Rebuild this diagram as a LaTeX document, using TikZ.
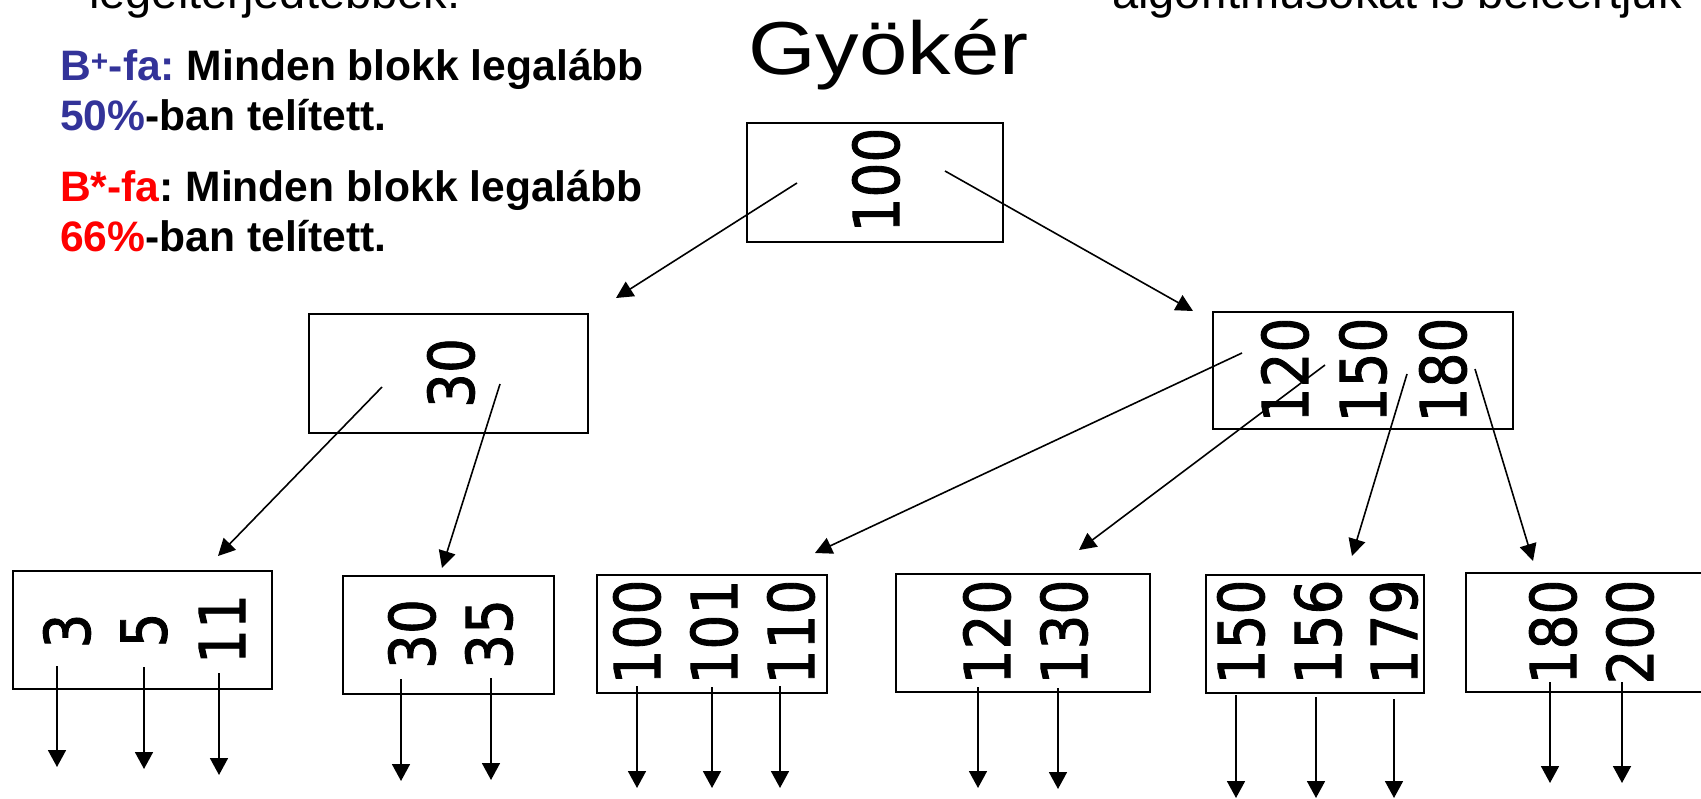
\documentclass[tikz,border=0pt]{standalone}
\usepackage{fontspec}
\usepackage{graphicx}
\setmainfont{Liberation Sans}
\newfontfamily\numfont[FakeBold=1.5]{DejaVu Sans}
\usetikzlibrary{arrows.meta}
\definecolor{bplus}{RGB}{51,51,153}
\definecolor{bstar}{RGB}{255,0,0}
\newcommand\nstretch[1]{\scalebox{1}[1.15]{#1}}
\frenchspacing
\tikzset{
  blockbox/.style={draw=black, line width=2pt, inner sep=0pt, fill=none},
  numtxt/.style={font=\numfont\fontsize{55}{55}\selectfont, rotate=90, inner sep=0pt},
  conn/.style={line width=1.6pt, -{Triangle[width=17pt,length=17pt]}},
  ptr/.style={line width=1.8pt, -{Triangle[width=18pt,length=17pt]}},
  boldtxt/.style={font=\bfseries\fontsize{42.6}{42.6}\selectfont, inner sep=0pt, anchor=base west},
  toptxt/.style={font=\fontsize{47}{47}\selectfont, inner sep=0pt, anchor=base west}
}
\begin{document}
\begin{tikzpicture}[x=1pt,y=-1pt]
\useasboundingbox (0,0) rectangle (1701,799);
\begin{scope}
\clip (0,0) rectangle (1701,799);
% cut-off text at top
\node[toptxt] (tl) at (89,9) {legelterjedtebbek.};
\node[toptxt] (tr) at (1112,9) {algoritmusokat is beleértjük};
% left text
\node[boldtxt] (l1) at (60,81) {\textcolor{bplus}{B\textsuperscript{+}-fa:} Minden blokk legalább};
\node[boldtxt] (l2) at (60,131) {\textcolor{bplus}{50\%}-ban telített.};
\node[boldtxt] (l3) at (60,202) {\textcolor{bstar}{B*-fa}: Minden blokk legalább};
\node[boldtxt] (l4) at (60,252) {\textcolor{bstar}{66\%}-ban telített.};
% title
\node[font=\fontsize{75}{75}\selectfont, inner sep=0pt, anchor=base west] (title) at (748,75) {\scalebox{1.16}[1]{Gyökér}};
% boxes
\node[blockbox, minimum width=256pt, minimum height=119pt] (root) at (875,182.5) {};
\node[blockbox, minimum width=279pt, minimum height=119pt] (in1) at (448.5,373.5) {};
\node[blockbox, minimum width=300pt, minimum height=117pt] (in2) at (1363,370.5) {};
\node[blockbox, minimum width=259pt, minimum height=118pt] (lf1) at (142.5,630) {};
\node[blockbox, minimum width=211pt, minimum height=118pt] (lf2) at (448.5,635) {};
\node[blockbox, minimum width=230pt, minimum height=118pt] (lf3) at (712,634) {};
\node[blockbox, minimum width=254pt, minimum height=118pt] (lf4) at (1023,633) {};
\node[blockbox, minimum width=218pt, minimum height=118pt] (lf5) at (1315,634) {};
\node[blockbox, minimum width=294pt, minimum height=119pt] (lf6) at (1613,632.5) {};
% keys
\node[numtxt] (k100) at (876,180) {\nstretch{100}};
\node[numtxt] (k30) at (451,373) {\nstretch{30}};
\node[numtxt] (k120) at (1285,370) {\nstretch{120}};
\node[numtxt] (k150) at (1363,370) {\nstretch{150}};
\node[numtxt] (k180) at (1443,370) {\nstretch{180}};
\node[numtxt] (a3) at (67,631) {\nstretch{3}};
\node[numtxt] (a5) at (144,630) {\nstretch{5}};
\node[numtxt] (a11) at (222,629) {\nstretch{11}};
\node[numtxt] (b30) at (412,634) {\nstretch{30}};
\node[numtxt] (b35) at (489,634) {\nstretch{35}};
\node[numtxt] (c100) at (637,632) {\nstretch{100}};
\node[numtxt] (c101) at (714,632) {\nstretch{101}};
\node[numtxt] (c110) at (791,632) {\nstretch{110}};
\node[numtxt] (d120) at (987,632) {\nstretch{120}};
\node[numtxt] (d130) at (1064,632) {\nstretch{130}};
\node[numtxt] (e150) at (1241,632) {\nstretch{150}};
\node[numtxt] (e156) at (1318,632) {\nstretch{156}};
\node[numtxt] (e179) at (1394,632) {\nstretch{179}};
\node[numtxt] (f180) at (1553,632) {\nstretch{180}};
\node[numtxt] (f200) at (1630,632) {\nstretch{200}};
% connector coordinates
\coordinate (rootL) at (797,183);
\coordinate (rootR) at (945,171);
\coordinate (in1T) at (616,298);
\coordinate (in2T) at (1193,311);
\coordinate (in1a) at (382,387);
\coordinate (in1b) at (500,384);
\coordinate (lf1T) at (218,556);
\coordinate (lf2T) at (442,568);
\coordinate (in2a) at (1242,353);
\coordinate (in2b) at (1325,365);
\coordinate (in2c) at (1407,374);
\coordinate (in2d) at (1475,369);
\coordinate (lf3T) at (815,553);
\coordinate (lf4T) at (1079,550);
\coordinate (lf5T) at (1352,556);
\coordinate (lf6T) at (1533,561);
\draw[conn] (rootL) -- (in1T);
\draw[conn] (rootR) -- (in2T);
\draw[conn] (in1a) -- (lf1T);
\draw[conn] (in1b) -- (lf2T);
\draw[conn] (in2a) -- (lf3T);
\draw[conn] (in2b) -- (lf4T);
\draw[conn] (in2c) -- (lf5T);
\draw[conn] (in2d) -- (lf6T);
% leaf pointers
\foreach \n/\x/\ya/\yb in {p1/57/666/767, p2/144/667/769, p3/219/673/775,
  p4/401/679/781, p5/491/678/780,
  p6/637/686/788, p7/712/687/788, p8/780/686/788,
  p9/978/687/788, p10/1058/688/789,
  p11/1236/695/798, p12/1316/697/798, p13/1394/699/798,
  p14/1550/682/783, p15/1622/682/783}{
  \coordinate (\n s) at (\x,\ya);
  \coordinate (\n e) at (\x,\yb);
  \draw[ptr] (\n s) -- (\n e);
}
\end{scope}
\end{tikzpicture}
\end{document}
